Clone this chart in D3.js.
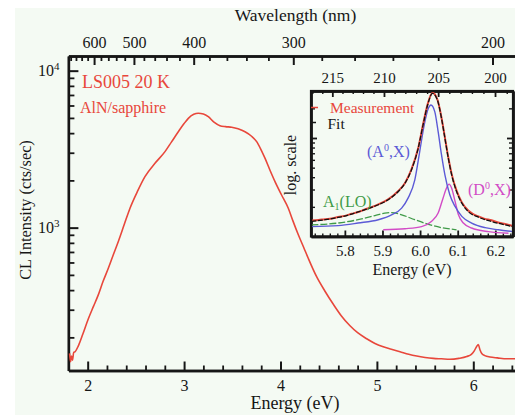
<!DOCTYPE html>
<html>
<head>
<meta charset="utf-8">
<script src="https://cdn.jsdelivr.net/npm/d3@7"></script>
<style>
    body { margin: 0; background: #fff; }
    svg { display: block; }
</style>
</head>
<body>
<div id="chart"></div>
<script>
// CL spectrum, [energy (eV), counts/sec]
const spectrum = [
    [1.812, 158], [1.822, 140], [1.832, 152], [1.842, 143], [1.855, 160], [1.87, 162],
    [1.902, 176], [1.95, 210], [2.006, 262], [2.06, 315], [2.11, 373], [2.16, 455],
    [2.214, 551], [2.265, 670], [2.317, 814], [2.38, 1050], [2.439, 1330], [2.52, 1720],
    [2.594, 2113], [2.698, 2570], [2.802, 3050], [2.87, 3520], [2.94, 4080], [3.0, 4600],
    [3.044, 4970], [3.1, 5270], [3.147, 5355], [3.2, 5300], [3.251, 5095], [3.31, 4700],
    [3.372, 4465], [3.43, 4400], [3.494, 4360], [3.56, 4260], [3.632, 4080], [3.7, 3820],
    [3.753, 3530], [3.8, 3120], [3.839, 2770], [3.89, 2330], [3.943, 1965], [4.01, 1620],
    [4.081, 1330], [4.13, 1100], [4.185, 900], [4.24, 750], [4.288, 638], [4.376, 485],
    [4.46, 395], [4.548, 325], [4.63, 275], [4.721, 237], [4.8, 214], [4.894, 196],
    [4.98, 183], [5.066, 174], [5.15, 168], [5.24, 162], [5.33, 156], [5.413, 152],
    [5.5, 149], [5.585, 147], [5.67, 146], [5.758, 145], [5.85, 147], [5.932, 151],
    [5.98, 156], [6.01, 164], [6.035, 175], [6.052, 180], [6.07, 166], [6.09, 157],
    [6.12, 153], [6.173, 150], [6.25, 148], [6.35, 146], [6.45, 146]
];

// inset, [energy (eV), intensity (arb., log)]
const measurement = [
    [5.711, 1.45], [5.73, 1.47], [5.747, 1.5], [5.765, 1.52], [5.782, 1.58], [5.8, 1.62],
    [5.818, 1.7], [5.835, 1.77], [5.853, 1.88], [5.87, 1.98], [5.889, 2.12], [5.915, 2.38],
    [5.942, 2.9], [5.96, 3.5], [5.977, 4.8], [5.995, 7.9], [6.008, 13.8], [6.02, 22.0],
    [6.033, 28.8], [6.046, 24.6], [6.057, 16.0], [6.066, 10.1], [6.075, 6.35], [6.084, 4.3],
    [6.097, 2.92], [6.111, 2.22], [6.128, 1.84], [6.14, 1.7], [6.155, 1.6], [6.17, 1.52],
    [6.19, 1.46], [6.21, 1.38], [6.226, 1.34], [6.247, 1.28]
];

const fit = [
    [5.711, 1.42], [5.747, 1.48], [5.782, 1.56], [5.818, 1.69], [5.853, 1.87], [5.889, 2.1],
    [5.915, 2.36], [5.942, 2.86], [5.96, 3.48], [5.977, 4.74], [5.995, 7.87], [6.008, 13.6],
    [6.02, 21.6], [6.033, 28.4], [6.046, 24.3], [6.057, 15.8], [6.066, 9.94], [6.075, 6.23],
    [6.084, 4.22], [6.097, 2.86], [6.111, 2.18], [6.128, 1.79], [6.155, 1.57], [6.19, 1.42],
    [6.226, 1.31], [6.247, 1.26]
];

const peakAX = [
    [5.711, 1.26], [5.782, 1.29], [5.835, 1.37], [5.889, 1.48], [5.924, 1.66], [5.951, 1.94],
    [5.968, 2.45], [5.986, 3.76], [5.999, 7.28], [6.011, 13.6], [6.022, 20.0], [6.029, 21.6],
    [6.039, 18.5], [6.048, 11.6], [6.057, 6.73], [6.066, 4.22], [6.079, 2.65], [6.093, 2.02],
    [6.111, 1.6], [6.137, 1.37], [6.173, 1.23], [6.208, 1.17], [6.247, 1.12]
];

const peakDX = [
    [5.902, 1.17], [5.96, 1.2], [6.004, 1.26], [6.03, 1.42], [6.048, 1.73], [6.061, 2.45],
    [6.07, 3.09], [6.077, 3.4], [6.084, 3.09], [6.093, 2.27], [6.102, 1.66], [6.115, 1.37],
    [6.137, 1.22], [6.182, 1.12], [6.235, 1.08]
];

const peakLO = [
    [5.711, 1.31], [5.782, 1.37], [5.835, 1.48], [5.88, 1.63], [5.906, 1.73], [5.924, 1.75],
    [5.951, 1.66], [5.986, 1.48], [6.022, 1.33], [6.057, 1.23], [6.097, 1.17]
];

const energyTicks = [2, 3, 4, 5, 6];
const wavelengthTicks = [600, 500, 400, 300, 200];
const countTicks = [1e3, 1e4];
const insetEnergyTicks = [5.8, 5.9, 6.0, 6.1, 6.2];
const insetWavelengthTicks = [215, 210, 205, 200];

const HC = 1239.84;

const svgWidth = 515;
const svgHeight = 415;

const plot = { left: 68.4, right: 521.5, top: 56, bottom: 370.5 };
const inset = { left: 311, right: 513, top: 91, bottom: 236.5 };

const FONT = '"Liberation Serif", "Times New Roman", Times, "DejaVu Serif", serif';
const red = '#e8473b';
const ink = '#161616';

const svg = d3.select('#chart').append('svg')
    .attr('width', svgWidth)
    .attr('height', svgHeight)
    .style('font-family', FONT);

svg.append('rect')
    .attr('x', 15)
    .attr('y', 8)
    .attr('width', svgWidth - 15)
    .attr('height', svgHeight - 8)
    .attr('fill', '#f4faf3');

function addAxis(transform, axis, fontSize, tickWidth) {
    const g = svg.append('g')
        .attr('transform', transform)
        .call(axis)
        .attr('font-family', null)
        .attr('font-size', fontSize);
    g.select('.domain')
        .style('stroke', ink)
        .style('stroke-width', '2.4px');
    g.selectAll('.tick line')
        .style('stroke', ink)
        .style('stroke-width', (tickWidth || 1.8) + 'px');
    g.selectAll('.tick text').style('fill', ink);
    return g;
}

// Main plot
const x = d3.scaleLinear()
    .domain([1.8, 6.5])
    .range([plot.left, plot.right]);

const y = d3.scaleLog()
    .domain([123, 12400])
    .range([plot.bottom, plot.top]);

const topMinor = d3.range(220, 700, 20).filter(nm => nm % 100 !== 0).map(nm => HC / nm);
const bottomMinor = d3.range(19, 65, 2).map(d => (d + 1) / 10).filter(d => Math.abs(d - Math.round(d)) > 1e-6);
const leftMinor = d3.range(2, 10).map(d => d * 100).concat(d3.range(2, 10).map(d => d * 1000));

addAxis(`translate(0,${plot.bottom})`, d3.axisBottom(x)
    .tickValues(bottomMinor).tickSizeInner(-5).tickSizeOuter(0).tickFormat(''), 16);
addAxis(`translate(0,${plot.bottom})`, d3.axisBottom(x)
    .tickValues(energyTicks).tickSizeInner(-9).tickSizeOuter(0).tickPadding(9).tickFormat(d3.format('d')), 16, 2);

addAxis(`translate(0,${plot.top})`, d3.axisTop(x)
    .tickValues(topMinor).tickSizeInner(-5).tickSizeOuter(0).tickFormat(''), 16);
addAxis(`translate(0,${plot.top})`, d3.axisTop(x)
    .tickValues(wavelengthTicks.map(nm => HC / nm)).tickSizeInner(-9).tickSizeOuter(0).tickPadding(8)
    .tickFormat(d => Math.round(HC / d)), 16, 2);

addAxis(`translate(${plot.left},0)`, d3.axisLeft(y)
    .tickValues(leftMinor).tickSizeInner(-6).tickSizeOuter(0).tickFormat(''), 16);
const yAxis = addAxis(`translate(${plot.left},0)`, d3.axisLeft(y)
    .tickValues(countTicks).tickSizeInner(-10).tickSizeOuter(0).tickPadding(9).tickFormat(() => '10'), 16, 2);

yAxis.selectAll('.tick text')
    .append('tspan')
    .attr('dy', '-0.6em')
    .attr('font-size', 11)
    .text(d => Math.round(Math.log10(d)));

const line = d3.line()
    .x(d => x(d[0]))
    .y(d => y(d[1]))
    .curve(d3.curveMonotoneX);

svg.append('path')
    .datum(spectrum)
    .attr('fill', 'none')
    .attr('stroke', red)
    .attr('stroke-width', 1.6)
    .attr('d', line);

// Titles
svg.append('text')
    .attr('x', 295.5)
    .attr('y', 21)
    .attr('text-anchor', 'middle')
    .attr('font-size', 17.5)
    .attr('fill', ink)
    .text('Wavelength (nm)');

svg.append('text')
    .attr('x', 295)
    .attr('y', 409)
    .attr('text-anchor', 'middle')
    .attr('font-size', 18)
    .attr('fill', ink)
    .text('Energy (eV)');

svg.append('text')
    .attr('transform', 'translate(31,210) rotate(-90)')
    .attr('text-anchor', 'middle')
    .attr('font-size', 16.3)
    .attr('fill', ink)
    .text('CL Intensity (cts/sec)');

svg.append('text')
    .attr('x', 82)
    .attr('y', 88)
    .attr('font-size', 18)
    .attr('fill', red)
    .text('LS005 20 K');

svg.append('text')
    .attr('x', 80)
    .attr('y', 112.5)
    .attr('font-size', 16)
    .attr('fill', red)
    .text('AlN/sapphire');

// Inset
const ix = d3.scaleLinear()
    .domain([5.71, 6.247])
    .range([inset.left, inset.right]);

const iy = d3.scaleLog()
    .domain([1, 30])
    .range([inset.bottom, inset.top]);

svg.append('rect')
    .attr('x', inset.left)
    .attr('y', inset.top)
    .attr('width', inset.right - inset.left)
    .attr('height', inset.bottom - inset.top)
    .attr('fill', '#f4faf3');

svg.append('clipPath')
    .attr('id', 'inset-clip')
    .append('rect')
    .attr('x', inset.left)
    .attr('y', inset.top)
    .attr('width', inset.right - inset.left)
    .attr('height', inset.bottom - inset.top);

const insetMinorE = d3.range(286, 313, 1).map(d => d / 50).filter(d => Math.abs(d * 10 - Math.round(d * 10)) > 1e-6);
const insetMinorNm = d3.range(199, 218).filter(nm => nm % 5 !== 0).map(nm => HC / nm).filter(e => e > 5.71 && e < 6.247);
const insetLogMinor = [2, 3, 4, 5, 6, 7, 8, 9, 20];

addAxis(`translate(0,${inset.bottom})`, d3.axisBottom(ix)
    .tickValues(insetMinorE).tickSizeInner(-3).tickSizeOuter(0).tickFormat(''), 15, 1.4);
addAxis(`translate(0,${inset.bottom})`, d3.axisBottom(ix)
    .tickValues(insetEnergyTicks).tickSizeInner(-6).tickSizeOuter(0).tickPadding(9).tickFormat(d3.format('.1f')), 15);

addAxis(`translate(0,${inset.top})`, d3.axisTop(ix)
    .tickValues(insetMinorNm).tickSizeInner(-3).tickSizeOuter(0).tickFormat(''), 15, 1.4);
addAxis(`translate(0,${inset.top})`, d3.axisTop(ix)
    .tickValues(insetWavelengthTicks.map(nm => HC / nm)).tickSizeInner(-6).tickSizeOuter(0).tickPadding(8)
    .tickFormat(d => Math.round(HC / d)), 15);

addAxis(`translate(${inset.left},0)`, d3.axisLeft(iy)
    .tickValues(insetLogMinor).tickSizeInner(-4).tickSizeOuter(0).tickFormat(''), 15, 1.4);
addAxis(`translate(${inset.left},0)`, d3.axisLeft(iy)
    .tickValues([10]).tickSizeInner(-6).tickSizeOuter(0).tickFormat(''), 15);
addAxis(`translate(${inset.right},0)`, d3.axisRight(iy)
    .tickValues(insetLogMinor).tickSizeInner(-4).tickSizeOuter(0).tickFormat(''), 15, 1.4);
addAxis(`translate(${inset.right},0)`, d3.axisRight(iy)
    .tickValues([10]).tickSizeInner(-6).tickSizeOuter(0).tickFormat(''), 15);

const insetLine = d3.line()
    .x(d => ix(d[0]))
    .y(d => iy(d[1]))
    .curve(d3.curveMonotoneX);

const insetSeries = [
    { data: peakLO, color: '#3f9a48', width: 1.3, dash: '7,2' },
    { data: peakDX, color: '#d24cc6', width: 1.4, dash: null },
    { data: peakAX, color: '#5c5ad6', width: 1.4, dash: null },
    { data: measurement, color: red, width: 2, dash: null },
    { data: fit, color: '#111', width: 1.3, dash: '5,1.5' }
];

svg.append('g')
    .attr('clip-path', 'url(#inset-clip)')
    .selectAll('path')
    .data(insetSeries)
    .enter()
    .append('path')
    .attr('fill', 'none')
    .attr('stroke', d => d.color)
    .attr('stroke-width', d => d.width)
    .attr('stroke-dasharray', d => d.dash)
    .attr('d', d => insetLine(d.data));

svg.append('rect')
    .attr('x', inset.left)
    .attr('y', inset.top)
    .attr('width', inset.right - inset.left)
    .attr('height', inset.bottom - inset.top)
    .attr('fill', 'none')
    .attr('stroke', ink)
    .attr('stroke-width', 2.2);

// Inset legend
svg.append('line')
    .attr('x1', inset.left).attr('x2', inset.left + 7)
    .attr('y1', 107.5).attr('y2', 107.5)
    .attr('stroke', red).attr('stroke-width', 1.5);

svg.append('text')
    .attr('x', 330)
    .attr('y', 112.5)
    .attr('font-size', 15.5)
    .attr('fill', red)
    .text('Measurement');

svg.append('line')
    .attr('x1', inset.left).attr('x2', inset.left + 5)
    .attr('y1', 122.5).attr('y2', 122.5)
    .attr('stroke', ink).attr('stroke-width', 1.5);

svg.append('text')
    .attr('x', 327.5)
    .attr('y', 128.5)
    .attr('font-size', 15.5)
    .attr('fill', ink)
    .text('Fit');

// Peak labels
function peakLabel(xPos, yPos, color, parts) {
    const t = svg.append('text')
        .attr('x', xPos)
        .attr('y', yPos)
        .attr('font-size', 16)
        .attr('fill', color);
    parts.forEach(p => {
        t.append('tspan')
            .attr('dy', p.dy || 0)
            .attr('font-size', p.size || 16)
            .text(p.text);
    });
}

peakLabel(367, 157, '#5c5ad6', [
    { text: '(A' }, { text: '0', dy: -6, size: 10 }, { text: ',X)', dy: 6 }
]);

peakLabel(468, 195, '#d24cc6', [
    { text: '(D' }, { text: '0', dy: -6, size: 10 }, { text: ',X)', dy: 6 }
]);

peakLabel(323, 207, '#3f9a48', [
    { text: 'A' }, { text: '1', dy: 3, size: 10 }, { text: '(LO)', dy: -3 }
]);

svg.append('text')
    .attr('transform', 'translate(296,165) rotate(-90)')
    .attr('text-anchor', 'middle')
    .attr('font-size', 16)
    .attr('fill', ink)
    .text('log. scale');

svg.append('text')
    .attr('x', 412)
    .attr('y', 275)
    .attr('text-anchor', 'middle')
    .attr('font-size', 16)
    .attr('fill', ink)
    .text('Energy (eV)');

svg.selectAll('text').style('font-family', FONT);
</script>
</body>
</html>
